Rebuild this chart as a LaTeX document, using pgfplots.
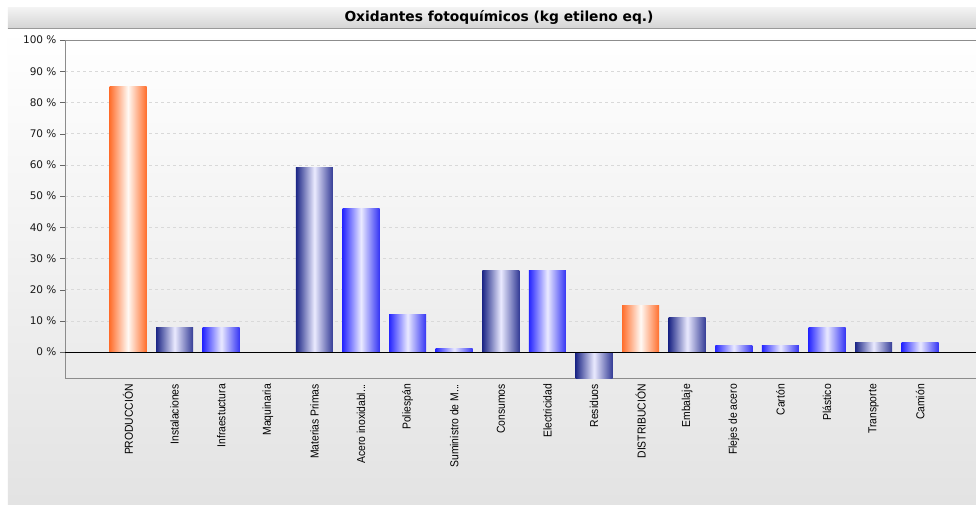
\documentclass[border=0pt]{standalone}
\usepackage{fontspec}
\usepackage{pgfplots}
\pgfplotsset{compat=1.18}
\newfontfamily\dejavu{DejaVu Sans}
\newfontfamily\libsans{Liberation Sans}
\definecolor{orangeC}{HTML}{FF6E2C}
\definecolor{navyL}{HTML}{1C2686}
\definecolor{navyR}{HTML}{343C96}
\definecolor{blueL}{HTML}{2626FF}
\definecolor{blueR}{HTML}{3434F4}
\newcommand{\xl}[1]{\scalebox{0.9}[1]{#1}}
\pgfplotsset{
  barbase/.style={ybar, bar width=37pt, bar shift=0pt, draw=none},
  orangebar/.style={barbase, left color=orangeC, right color=orangeC, middle color=white!96!orange},
  navybar/.style={barbase, left color=navyL, right color=navyR, middle color=white!92!blue},
  bluebar/.style={barbase, left color=blueL, right color=blueR, middle color=white!92!blue},
}
\begin{document}
\begin{tikzpicture}[x=1pt,y=1pt]
\fill[white] (-65,-126) rectangle (911,378);
\shade[top color=white, bottom color=black!11] (-57,-126) rectangle (911,349);
\shade[top color=black!5, bottom color=black!17] (-57,349.5) rectangle (911,370);
\draw[black!40, line width=1.2pt] (-57,349.5) -- (911,349.5);
\node[font=\dejavu\bfseries\fontsize{13.8}{16}\selectfont] at (434,361) {Oxidantes fotoquímicos (kg etileno eq.)};
\begin{axis}[at={(0,0)}, anchor=south west, scale only axis,
  width=915pt, height=338pt,
  xmin=-1.352, xmax=18.283, ymin=-8.33, ymax=100,
  axis line style={draw=black!45},
  tick pos=left,
  xtick={0,...,17},
  xticklabels={\xl{PRODUCCIÓN},\xl{Instalaciones},\xl{Infraestuctura},\xl{Maquinaria},\xl{Materias Primas},\xl{Acero inoxidabl...},\xl{Poliespán},\xl{Suministro de M...},\xl{Consumos},\xl{Electricidad},\xl{Residuos},\xl{DISTRIBUCIÓN},\xl{Embalaje},\xl{Flejes de acero},\xl{Cartón},\xl{Plástico},\xl{Transporte},\xl{Camión}},
  x tick style={draw=none},
  xticklabel style={rotate=90, anchor=east, font=\libsans\fontsize{11.5}{12}\selectfont, inner sep=1pt, text=black},
  ytick={0,10,...,100},
  yticklabels={0 \%,10 \%,20 \%,30 \%,40 \%,50 \%,60 \%,70 \%,80 \%,90 \%,100 \%},
  y tick style={draw=black!60},
  tick align=outside, major tick length=5pt,
  yticklabel style={font=\dejavu\fontsize{10.5}{12}\selectfont, text=black!90},
  ymajorgrids, major grid style={dashed, black!15},
]
\addplot[orangebar] coordinates {(0,85)};
\addplot[navybar] coordinates {(1,8)};
\addplot[bluebar] coordinates {(2,8)};
\addplot[navybar] coordinates {(4,59)};
\addplot[bluebar] coordinates {(5,46)};
\addplot[bluebar] coordinates {(6,12)};
\addplot[bluebar] coordinates {(7,1)};
\addplot[navybar] coordinates {(8,26)};
\addplot[bluebar] coordinates {(9,26)};
\addplot[navybar] coordinates {(10,-8.6)};
\addplot[orangebar] coordinates {(11,15)};
\addplot[navybar] coordinates {(12,11)};
\addplot[bluebar] coordinates {(13,2)};
\addplot[bluebar] coordinates {(14,2)};
\addplot[bluebar] coordinates {(15,8)};
\addplot[navybar] coordinates {(16,3)};
\addplot[bluebar] coordinates {(17,3)};
\draw[black, line width=0.8pt] (axis cs:-1.352,0) -- (axis cs:18.283,0);
\end{axis}
\pgfresetboundingbox
\path[use as bounding box] (-65,-126) rectangle (911,378);
\end{tikzpicture}
\end{document}
